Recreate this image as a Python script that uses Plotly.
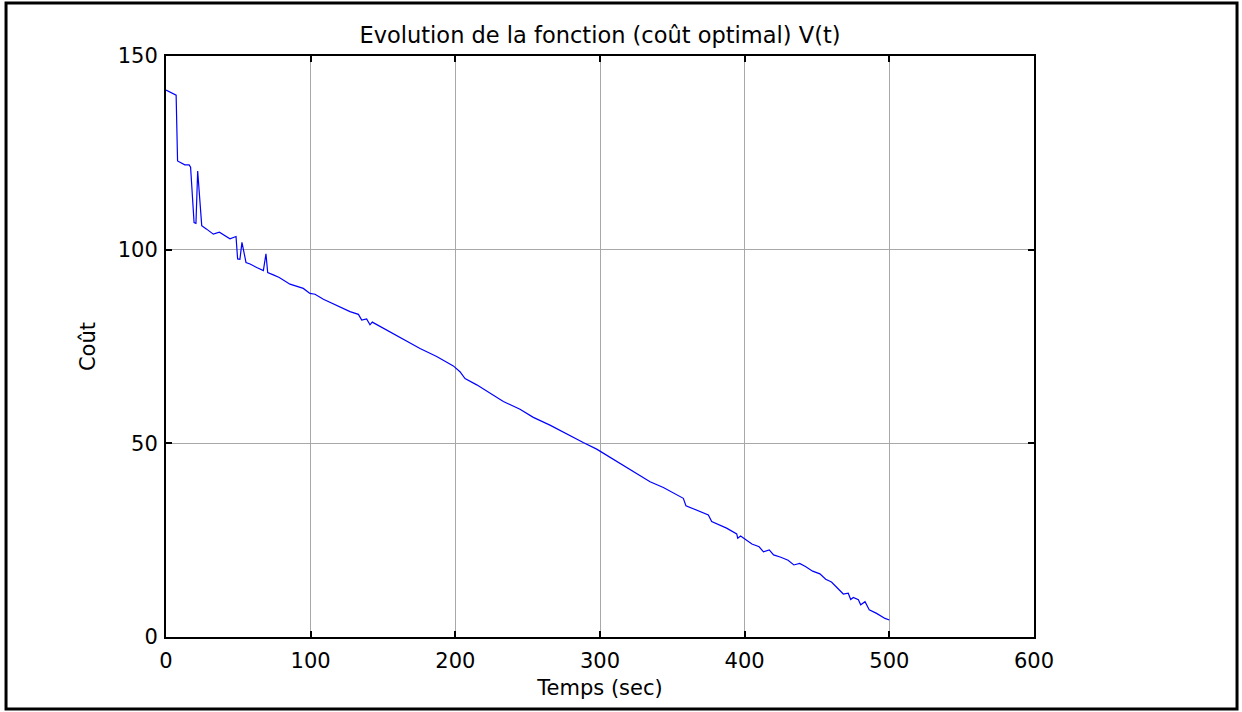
import plotly.graph_objects as go

# Data
temps = [0, 7, 8, 13, 16, 17, 19.4, 20.7, 21.9, 24.7, 28.1, 32.7, 36.9, 40.1, 44.2, 48.4,
         49.5, 51.1, 52.5, 55.3, 58.1, 62.7, 67.3, 69.1, 70.3, 74.2, 78.3, 85.7, 94.9, 99.5,
         103, 108.8, 118, 127.2, 133, 135.3, 138.7, 141, 142.6, 152.5, 164, 175.6, 187.1,
         198.6, 203.2, 206.7, 214.8, 224, 233.2, 244.7, 253.9, 265.4, 276.9, 288.4, 297.7,
         310, 322, 334.6, 343.8, 350.7, 357.6, 359.4, 369.1, 374.9, 377.2, 387.5, 394.5,
         395.2, 397.2, 400.2, 405, 410, 413, 417, 420, 425, 430, 434, 438, 442, 447, 452,
         456, 460, 465.9, 468.2, 471.6, 473.3, 475.1, 478.6, 480.2, 483.2, 486.1, 491.2,
         497, 500]
cout = [141.2, 139.9, 122.9, 121.9, 121.9, 121.3, 107, 106.8, 120.3, 106.2, 105.3, 104.0,
        104.5, 103.7, 102.8, 103.4, 97.6, 97.5, 101.9, 96.7, 96.3, 95.4, 94.6, 98.9, 94.1,
        93.5, 92.8, 91.1, 90.0, 88.7, 88.5, 87.2, 85.5, 84.0, 83.3, 81.8, 82.1, 80.6, 81.3,
        79.3, 76.9, 74.5, 72.4, 70.0, 68.5, 66.7, 65.1, 62.9, 60.8, 58.8, 56.7, 54.7, 52.4,
        50.2, 48.5, 45.7, 42.9, 40.1, 38.6, 37.3, 35.8, 33.9, 32.5, 31.5, 29.8, 28.1, 26.6,
        25.5, 26.1, 25.2, 24.0, 23.3, 22.0, 22.5, 21.2, 20.6, 19.8, 18.6, 19.0, 18.2, 17.0,
        16.3, 14.9, 14.2, 12.1, 11.1, 11.3, 9.7, 10.2, 9.6, 8.3, 9.1, 7.0, 6.1, 4.8, 4.4]

x_ticks = [0, 100, 200, 300, 400, 500, 600]
y_ticks = [0, 50, 100, 150]

FONT = "DejaVu Sans, sans-serif"

fig = go.Figure()
fig.add_trace(go.Scatter(x=temps, y=cout, mode="lines",
                         line=dict(color="#0000ff", width=1.2), showlegend=False))

axis_common = dict(
    showline=True, linecolor="black", linewidth=2, mirror="ticks",
    ticks="inside", ticklen=6, tickwidth=2, tickcolor="black",
    showgrid=True, gridcolor="#a8a8a8", gridwidth=1,
    zeroline=False, tickfont=dict(family=FONT, size=21, color="black"),
)

fig.update_layout(
    width=1242, height=712,
    margin=dict(l=166, r=208, t=56, b=75),
    paper_bgcolor="white", plot_bgcolor="white",
    title=dict(text="Evolution de la fonction (coût optimal) V(t)", x=0.4831, xanchor="center",
               y=0.950, yanchor="middle", font=dict(family=FONT, size=22.5, color="black")),
    xaxis=dict(range=[0, 600], tickvals=x_ticks, ticktext=[str(v) for v in x_ticks],
               title=dict(text="Temps (sec)", font=dict(family=FONT, size=21, color="black"),
                          standoff=8),
               ticklabelstandoff=4,
               **axis_common),
    yaxis=dict(range=[0, 150], tickvals=y_ticks, ticktext=[str(v) for v in y_ticks],
               title=dict(text="Coût", font=dict(family=FONT, size=21, color="black"),
                          standoff=16),
               ticklabelstandoff=2,
               **axis_common),
)

# outer black frame around the whole picture
fig.add_shape(type="rect", xref="paper", yref="paper",
              x0=-0.1843, x1=1.2339, y0=-0.1239, y1=1.0912,
              line=dict(color="black", width=3), fillcolor="rgba(0,0,0,0)", layer="above")

fig.write_html("out.html")
